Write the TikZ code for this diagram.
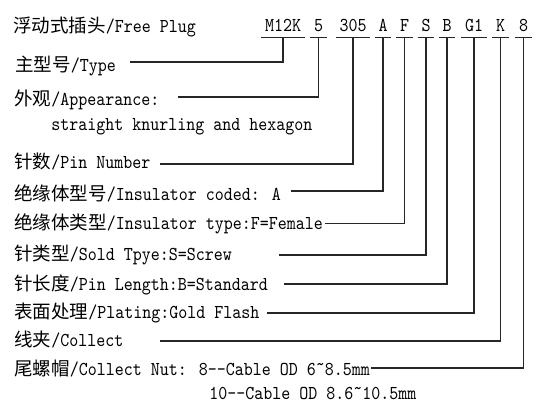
\documentclass[tikz,border=0pt]{standalone}
\usepackage{fontspec}
\setmainfont{lmmono10-regular.otf}[FakeStretch=0.87]
\newfontfamily\cjkfont{Noto Sans CJK SC}[Scale=0.94]
\newcommand{\zh}[1]{{\cjkfont #1}}
\usepackage{tikz}
\tikzset{
  txt/.style={font=\fontsize{9.85pt}{11pt}\selectfont, inner sep=0pt},
  item/.style={txt, anchor=base west},
  code/.style={txt, anchor=base, inner xsep=1.75pt, inner ysep=2.5pt},
  lead/.style={line width=0.65pt, draw=black!85}
}

\begin{document}
\begin{tikzpicture}[x=0.5pt, y=-0.5pt]
  \useasboundingbox (0,0) rectangle (540,406);

  % ordering code
  \node[item] (title) at (13,33) {\zh{浮动式插头}/Free Plug};
  \node[code] (cm)  at (283,32)   {M12K};
  \node[code] (c5)  at (318.5,32) {5};
  \node[code] (cp)  at (353,32)   {305};
  \node[code] (ca)  at (383,32)   {A};
  \node[code] (cf)  at (404.5,32) {F};
  \node[code] (cs)  at (426,32)   {S};
  \node[code] (cb)  at (447,32)   {B};
  \node[code] (cg)  at (474,32)   {G1};
  \node[code] (ck)  at (500.5,32) {K};
  \node[code] (cn)  at (523.5,32) {8};

  % descriptions
  \node[item] (type)    at (15,72)  {\zh{主型号}/Type};
  \node[item] (look)    at (14,106) {\zh{外观}/Appearance:};
  \node[item] (look2)   at (51,131) {straight knurling and hexagon};
  \node[item] (pins)    at (14,169) {\zh{针数}/Pin Number};
  \node[item] (inscode) at (14,200) {\zh{绝缘体型号}/Insulator coded: A};
  \node[item] (instype) at (14,229) {\zh{绝缘体类型}/Insulator type:F=Female};
  \node[item] (pintype) at (14,260) {\zh{针类型}/Sold Tpye:S=Screw};
  \node[item] (pinlen)  at (14,290) {\zh{针长度}/Pin Length:B=Standard};
  \node[item] (plating) at (14,318) {\zh{表面处理}/Plating:Gold Flash};
  \node[item] (clamp)   at (14,346) {\zh{线夹}/Collect};
  \node[item] (nut)     at (14,375)
    {\zh{尾螺帽}/Collect Nut: 8-{}-Cable OD 6˜8.5mm};
  \node[item] (nut2)    at (209,399) {10-{}-Cable OD 8.6˜10.5mm};

  \coordinate (ltype)    at (130,62);
  \coordinate (llook)    at (178,97);
  \coordinate (lpins)    at (160,164);
  \coordinate (linscode) at (291,191);
  \coordinate (linstype) at ([xshift=1pt]instype.east);
  \coordinate (lpintype) at (279,255);
  \coordinate (lpinlen)  at (284,284);
  \coordinate (lplating) at (267,313);
  \coordinate (lclamp)   at (160,341);
  \coordinate (lnut)     at ([xshift=0.5pt]nut.east);

  \foreach \c in {cm,c5,cp,ca,cf,cs,cb,cg,ck,cn}
    \draw[lead] (\c.south west) -- (\c.south east);

  \foreach \s/\c in {ltype/cm,llook/c5,lpins/cp,linscode/ca,linstype/cf,
      lpintype/cs,lpinlen/cb,lplating/cg,lclamp/ck,lnut/cn}
    \draw[lead] (\s) -| (\c.south);
\end{tikzpicture}
\end{document}
